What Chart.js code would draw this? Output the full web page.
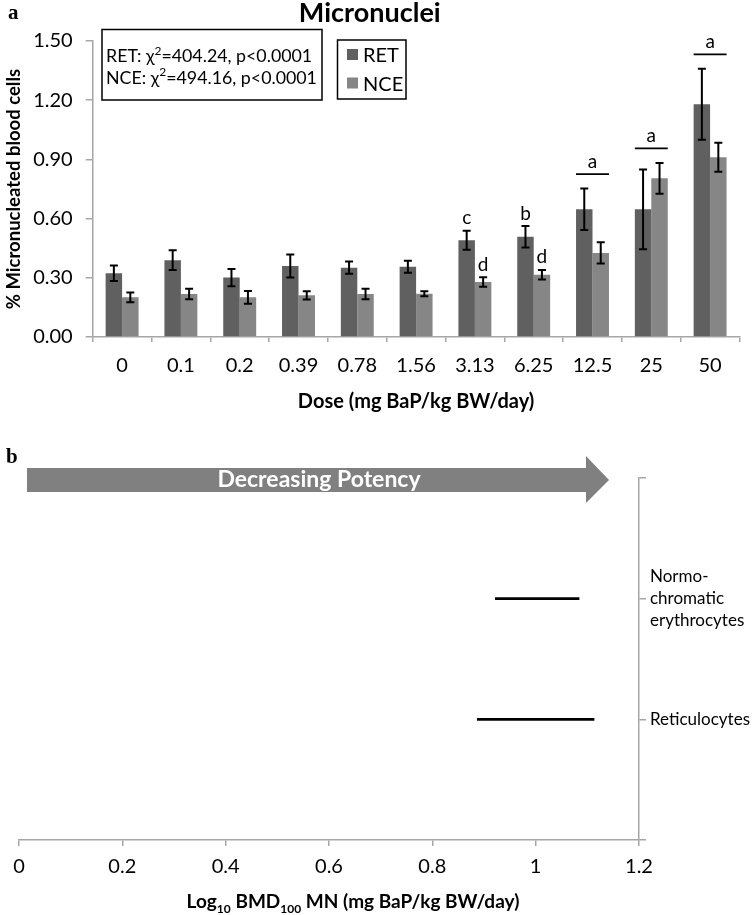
<!DOCTYPE html>
<html>
<head>
<meta charset="utf-8">
<script src="https://cdn.jsdelivr.net/npm/chart.js@4.4.1/dist/chart.umd.min.js"></script>
<style>
  html, body { margin: 0; padding: 0; background: #fff; }
  #wrap { position: relative; width: 753px; height: 915px; overflow: hidden; }
  #topBox { position: absolute; left: 0; top: 0; width: 753px; height: 420px; }
  #bottomBox { position: absolute; left: 0; top: 420px; width: 753px; height: 495px; }
</style>
</head>
<body>
<div id="wrap">
  <div id="topBox"><canvas id="mnChart"></canvas></div>
  <div id="bottomBox"><canvas id="bmdChart"></canvas></div>
</div>
<script>
const FONT = "Lato, 'Open Sans', sans-serif";
const SERIF = "'Liberation Serif', 'DejaVu Serif', serif";
const AXIS_GRAY = "#a6a6a6";

// panel a: micronucleus frequency by dose
const doses = ["0", "0.1", "0.2", "0.39", "0.78", "1.56", "3.13", "6.25", "12.5", "25", "50"];
const retMean = [0.323, 0.389, 0.301, 0.360, 0.351, 0.356, 0.490, 0.508, 0.647, 0.647, 1.179];
const retErr = [0.039, 0.050, 0.044, 0.058, 0.031, 0.030, 0.048, 0.054, 0.105, 0.202, 0.180];
const nceMean = [0.201, 0.218, 0.201, 0.211, 0.218, 0.219, 0.279, 0.316, 0.426, 0.804, 0.911];
const nceErr = [0.025, 0.027, 0.032, 0.021, 0.027, 0.013, 0.024, 0.024, 0.054, 0.078, 0.073];
const retLetters = ["", "", "", "", "", "", "c", "b", "", "", ""];
const nceLetters = ["", "", "", "", "", "", "d", "d", "", "", ""];
const groupLetters = ["", "", "", "", "", "", "", "", "a", "a", "a"];
const yTicksA = [0, 0.3, 0.6, 0.9, 1.2, 1.5];
const statLines = [
  ["RET: \u03c7", "2", "=404.24, p<0.0001"],
  ["NCE: \u03c7", "2", "=494.16, p<0.0001"],
];

// panel b: BMD confidence intervals (log10)
const cellTypes = ["", ["Normo-", "chromatic", "erythrocytes"], "Reticulocytes", ""];
const bmdLower = [null, 0.922, 0.887, null];
const bmdUpper = [null, 1.084, 1.113, null];
const xTicksB = [0, 0.2, 0.4, 0.6, 0.8, 1, 1.2];
const xTickLabelsB = ["0", "0.2", "0.4", "0.6", "0.8", "1", "1.2"];

const RET_COLOR = "#606060";
const NCE_COLOR = "#868686";

function drawRich(ctx, parts, x, y, align) {
  let total = 0;
  parts.forEach((p) => {
    ctx.font = `${p.weight || "normal"} ${p.size}px ${FONT}`;
    p.w = ctx.measureText(p.text).width;
    total += p.w;
  });
  let cx = align === "center" ? x - total / 2 : x;
  ctx.textAlign = "left";
  ctx.textBaseline = "alphabetic";
  parts.forEach((p) => {
    ctx.font = `${p.weight || "normal"} ${p.size}px ${FONT}`;
    ctx.fillText(p.text, cx, y + (p.dy || 0));
    cx += p.w;
  });
}

const errorBars = {
  id: "errorBars",
  afterDatasetsDraw(chart) {
    const { ctx } = chart;
    const y = chart.scales.y;
    const errs = [retErr, nceErr];
    ctx.save();
    ctx.strokeStyle = "#000";
    ctx.lineWidth = 2;
    chart.data.datasets.forEach((ds, i) => {
      chart.getDatasetMeta(i).data.forEach((bar, j) => {
        const top = y.getPixelForValue(ds.data[j] + errs[i][j]);
        const bot = y.getPixelForValue(ds.data[j] - errs[i][j]);
        ctx.beginPath();
        ctx.moveTo(bar.x, top); ctx.lineTo(bar.x, bot);
        ctx.moveTo(bar.x - 4, top); ctx.lineTo(bar.x + 4, top);
        ctx.moveTo(bar.x - 4, bot); ctx.lineTo(bar.x + 4, bot);
        ctx.stroke();
      });
    });

    // significance letters
    ctx.fillStyle = "#000";
    ctx.textAlign = "center";
    ctx.textBaseline = "alphabetic";
    ctx.font = `19px ${FONT}`;
    [retLetters, nceLetters].forEach((letters, i) => {
      const bars = chart.getDatasetMeta(i).data;
      letters.forEach((t, j) => {
        if (!t) return;
        const top = y.getPixelForValue(chart.data.datasets[i].data[j] + errs[i][j]);
        ctx.fillText(t, bars[j].x, top - 6.5);
      });
    });
    groupLetters.forEach((t, j) => {
      if (!t) return;
      const a = chart.getDatasetMeta(0).data[j];
      const b = chart.getDatasetMeta(1).data[j];
      const hi = Math.max(retMean[j] + retErr[j], nceMean[j] + nceErr[j]);
      const ly = y.getPixelForValue(hi) - 14.5;
      const x0 = a.x - a.width / 2, x1 = b.x + b.width / 2;
      ctx.lineWidth = 1.7;
      ctx.beginPath(); ctx.moveTo(x0, ly); ctx.lineTo(x1, ly); ctx.stroke();
      ctx.fillText(t, (x0 + x1) / 2, ly - 6);
    });
    ctx.restore();
  },
  afterDraw(chart) {
    const { ctx } = chart;
    ctx.save();
    ctx.fillStyle = "#000";
    ctx.font = `bold 21px ${SERIF}`;
    ctx.textAlign = "left";
    ctx.textBaseline = "alphabetic";
    ctx.fillText("a", 8, 19);

    // stats box
    ctx.strokeStyle = "#000";
    ctx.lineWidth = 1.5;
    ctx.strokeRect(102, 29.5, 220, 70.5);
    statLines.forEach((line, k) => {
      drawRich(ctx, [
        { text: line[0], size: 17.8 },
        { text: line[1], size: 12, dy: -7.5 },
        { text: line[2], size: 17.8 },
      ], 106, 62 + k * 21.5, "left");
    });

    // legend box
    ctx.strokeRect(337.5, 40, 68.5, 59);
    chart.data.datasets.forEach((ds, k) => {
      ctx.fillStyle = ds.backgroundColor;
      ctx.fillRect(347, 49 + k * 28.5, 11, 11);
      ctx.fillStyle = "#000";
      ctx.font = `20px ${FONT}`;
      ctx.fillText(ds.label, 363, 62 + k * 28.5);
    });
    ctx.restore();
  },
};

new Chart(document.querySelector("#mnChart"), {
  type: "bar",
  data: {
    labels: doses,
    datasets: [
      { label: "RET", data: retMean, backgroundColor: RET_COLOR },
      { label: "NCE", data: nceMean, backgroundColor: NCE_COLOR },
    ],
  },
  options: {
    responsive: true,
    maintainAspectRatio: false,
    animation: false,
    layout: { padding: { left: 0, right: 13.5, top: 0, bottom: 0 } },
    datasets: { bar: { categoryPercentage: 0.56, barPercentage: 1.0 } },
    plugins: {
      legend: { display: false },
      tooltip: { enabled: false },
      title: {
        display: true,
        text: "Micronuclei",
        color: "#000",
        font: { family: FONT, size: 27, weight: "bold", lineHeight: 1.0 },
        padding: { top: 0, bottom: 14 },
      },
    },
    scales: {
      x: {
        grid: { drawOnChartArea: false, tickLength: 5, color: AXIS_GRAY, lineWidth: 1.5 },
        border: { color: AXIS_GRAY, width: 1.5 },
        ticks: { color: "#000", font: { family: FONT, size: 20 }, padding: 12, maxRotation: 0 },
        title: {
          display: true,
          text: "Dose (mg BaP/kg BW/day)",
          color: "#000",
          font: { family: FONT, size: 20, weight: "bold" },
          padding: { top: 0, bottom: 6 },
        },
        afterFit: (scale) => { scale.height = 83; },
      },
      y: {
        min: 0,
        max: 1.5,
        afterBuildTicks: (scale) => { scale.ticks = yTicksA.map((v) => ({ value: v })); },
        grid: { drawOnChartArea: false, tickLength: 7, color: AXIS_GRAY, lineWidth: 1.5 },
        border: { color: AXIS_GRAY, width: 1.5 },
        ticks: {
          color: "#000",
          font: { family: FONT, size: 20 },
          padding: 13,
          callback: (v) => Number(v).toFixed(2),
        },
        title: {
          display: true,
          text: "% Micronucleated blood cells",
          color: "#000",
          font: { family: FONT, size: 18.5, weight: "bold" },
          padding: { top: 3, bottom: 0 },
        },
        afterFit: (scale) => { scale.width = 92.7; },
      },
    },
  },
  plugins: [errorBars],
});

const potencyArrow = {
  id: "potencyArrow",
  afterDraw(chart) {
    const { ctx } = chart;
    ctx.save();
    ctx.fillStyle = "#000";
    ctx.font = `bold 21px ${SERIF}`;
    ctx.textAlign = "left";
    ctx.textBaseline = "alphabetic";
    ctx.fillText("b", 6, 43);

    ctx.fillStyle = "#808080";
    ctx.beginPath();
    ctx.moveTo(27, 48);
    ctx.lineTo(586, 48);
    ctx.lineTo(586, 36);
    ctx.lineTo(609, 60);
    ctx.lineTo(586, 83);
    ctx.lineTo(586, 72);
    ctx.lineTo(27, 72);
    ctx.closePath();
    ctx.fill();

    ctx.fillStyle = "#fff";
    ctx.font = `bold 23px ${FONT}`;
    ctx.textAlign = "center";
    ctx.textBaseline = "middle";
    ctx.fillText("Decreasing Potency", 319, 60, 210);

    ctx.fillStyle = "#000";
    drawRich(ctx, [
      { text: "Log", size: 19, weight: "bold" },
      { text: "10", size: 12, weight: "bold", dy: 5 },
      { text: " BMD", size: 19, weight: "bold" },
      { text: "100", size: 12, weight: "bold", dy: 5 },
      { text: " MN (mg BaP/kg BW/day)", size: 19, weight: "bold" },
    ], 353, 488, "center");
    ctx.restore();
  },
};

new Chart(document.querySelector("#bmdChart"), {
  type: "bar",
  data: {
    labels: cellTypes,
    datasets: [{
      label: "BMD",
      data: bmdLower.map((lo, i) => (lo === null ? null : [lo, bmdUpper[i]])),
      backgroundColor: "#000",
      barThickness: 2,
    }],
  },
  options: {
    indexAxis: "y",
    responsive: true,
    maintainAspectRatio: false,
    animation: false,
    layout: { padding: { left: 19, right: 0, top: 58, bottom: 0 } },
    plugins: { legend: { display: false }, tooltip: { enabled: false } },
    scales: {
      x: {
        type: "linear",
        min: 0,
        max: 1.2,
        afterBuildTicks: (scale) => { scale.ticks = xTicksB.map((v) => ({ value: v })); },
        grid: { drawOnChartArea: false, tickLength: 6, color: AXIS_GRAY, lineWidth: 1.5 },
        border: { color: AXIS_GRAY, width: 1.5 },
        ticks: {
          color: "#000",
          font: { family: FONT, size: 20 },
          padding: 9,
          maxRotation: 0,
          callback: (v, i) => xTickLabelsB[i],
        },
        afterFit: (scale) => { scale.height = 75; },
      },
      y: {
        type: "category",
        position: "right",
        offset: false,
        grid: { drawOnChartArea: false, offset: false, tickLength: 7, color: AXIS_GRAY, lineWidth: 1.5 },
        border: { color: AXIS_GRAY, width: 1.5 },
        ticks: { color: "#000", font: { family: FONT, size: 17, lineHeight: 1.3 }, padding: 4 },
        afterFit: (scale) => { scale.width = 114; },
      },
    },
  },
  plugins: [potencyArrow],
});
</script>
</body>
</html>
